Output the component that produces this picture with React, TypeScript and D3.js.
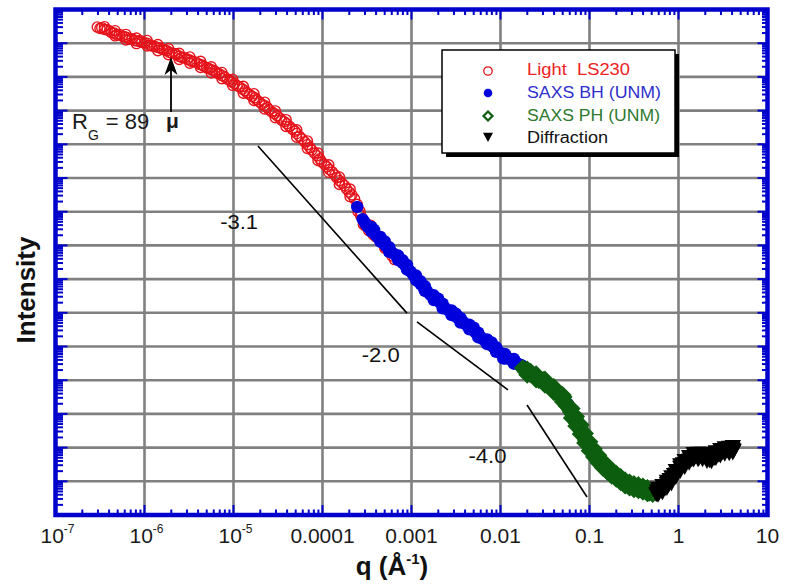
import React from "react";
import * as d3 from "d3";

// ---- axis tick labels ----
const xTickLabels = ["10^-7", "10^-6", "10^-5", "0.0001", "0.001", "0.01", "0.1", "1", "10"];
const xTickValues = [1e-7, 1e-6, 1e-5, 1e-4, 1e-3, 1e-2, 1e-1, 1, 10];

// ---- series: [log10 q (1/Å), log10 Intensity (arb.)] ----
const lightLS230 = [
  [-6.53, 14.48], [-6.5, 14.44], [-6.48, 14.46], [-6.45, 14.41], [-6.42, 14.4], [-6.39, 14.36], [-6.37, 14.31],
  [-6.34, 14.3], [-6.31, 14.25], [-6.28, 14.26], [-6.25, 14.21], [-6.22, 14.19], [-6.2, 14.17], [-6.17, 14.12],
  [-6.14, 14.13], [-6.11, 14.08], [-6.08, 14.06], [-6.05, 14.08], [-6.03, 14.03], [-6.0, 14.01], [-5.97, 14.0],
  [-5.94, 13.94], [-5.92, 13.92], [-5.89, 13.91], [-5.86, 13.88], [-5.83, 13.86], [-5.8, 13.82], [-5.78, 13.81],
  [-5.75, 13.78], [-5.72, 13.73], [-5.69, 13.7], [-5.66, 13.69], [-5.64, 13.66], [-5.61, 13.61], [-5.58, 13.58],
  [-5.55, 13.57], [-5.52, 13.53], [-5.49, 13.5], [-5.47, 13.46], [-5.44, 13.45], [-5.41, 13.42], [-5.38, 13.37],
  [-5.35, 13.35], [-5.33, 13.31], [-5.3, 13.27], [-5.27, 13.24], [-5.24, 13.2], [-5.21, 13.17], [-5.19, 13.12],
  [-5.16, 13.09], [-5.13, 13.04], [-5.1, 13.0], [-5.07, 12.93], [-5.04, 12.9], [-5.02, 12.85], [-4.99, 12.8],
  [-4.96, 12.74], [-4.93, 12.7], [-4.9, 12.64], [-4.87, 12.59], [-4.85, 12.53], [-4.82, 12.48], [-4.79, 12.42],
  [-4.76, 12.38], [-4.74, 12.32], [-4.71, 12.26], [-4.68, 12.19], [-4.65, 12.15], [-4.62, 12.09], [-4.6, 12.03],
  [-4.57, 11.96], [-4.54, 11.91], [-4.51, 11.85], [-4.48, 11.78], [-4.46, 11.72], [-4.43, 11.67], [-4.4, 11.61],
  [-4.37, 11.53], [-4.34, 11.45], [-4.31, 11.39], [-4.29, 11.32], [-4.26, 11.24], [-4.23, 11.16], [-4.2, 11.07],
  [-4.17, 10.99], [-4.14, 10.9], [-4.12, 10.83], [-4.09, 10.74], [-4.06, 10.66], [-4.03, 10.57], [-4.01, 10.48],
  [-3.98, 10.41], [-3.95, 10.33], [-3.92, 10.25], [-3.89, 10.18], [-3.86, 10.09], [-3.84, 10.01], [-3.81, 9.92],
  [-3.78, 9.85], [-3.75, 9.77], [-3.73, 9.68], [-3.7, 9.58], [-3.67, 9.5], [-3.64, 9.38], [-3.61, 9.22],
  [-3.58, 9.02], [-3.55, 8.78], [-3.52, 8.68], [-3.5, 8.62], [-3.47, 8.53], [-3.44, 8.46], [-3.41, 8.36],
  [-3.39, 8.28], [-3.36, 8.19], [-3.33, 8.1], [-3.3, 8.0], [-3.28, 7.9], [-3.25, 7.8], [-3.22, 7.69], [-3.19, 7.58],
  [-3.52, 8.58], [-3.46, 8.6], [-3.4, 8.25], [-3.35, 8.26], [-3.3, 7.92], [-3.27, 7.98],
  // scattered upper / lower points
  [-6.45, 14.49], [-6.33, 14.37], [-6.33, 14.22], [-6.21, 14.26], [-6.21, 14.1], [-6.09, 14.15], [-6.09, 13.99],
  [-5.97, 14.08], [-5.97, 13.92], [-5.85, 13.96], [-5.85, 13.78], [-5.73, 13.84], [-5.73, 13.66], [-5.61, 13.7],
  [-5.61, 13.52], [-5.49, 13.59], [-5.49, 13.41], [-5.37, 13.46], [-5.37, 13.28], [-5.25, 13.3], [-5.25, 13.12],
  [-5.13, 13.13], [-5.13, 12.95], [-5.01, 12.93], [-5.01, 12.75], [-4.89, 12.72], [-4.89, 12.52], [-4.77, 12.5],
  [-4.77, 12.3], [-4.65, 12.25], [-4.65, 12.05], [-4.53, 11.99], [-4.53, 11.79], [-4.41, 11.73], [-4.41, 11.53],
  [-4.29, 11.43], [-4.29, 11.21], [-4.17, 11.1], [-4.17, 10.88], [-4.05, 10.74], [-4.05, 10.52], [-3.93, 10.39],
  [-3.93, 10.17], [-3.81, 10.03], [-3.81, 9.81], [-3.69, 9.67], [-3.69, 9.45],
  // red fringe around the start of the SAXS BH data
  [-3.6, 9.0], [-3.57, 8.88], [-3.54, 8.62], [-3.48, 8.44], [-3.43, 8.32],
];

const saxsBH = [
  [-3.61, 9.14], [-3.55, 8.78], [-3.53, 8.7], [-3.51, 8.62], [-3.49, 8.55], [-3.47, 8.52], [-3.44, 8.47],
  [-3.42, 8.38], [-3.42, 8.46], [-3.4, 8.3], [-3.38, 8.25], [-3.35, 8.18], [-3.32, 8.07], [-3.3, 8.12], [-3.29, 7.98],
  [-3.26, 7.92], [-3.24, 7.85], [-3.21, 7.77], [-3.18, 7.72], [-3.15, 7.63], [-3.12, 7.55], [-3.1, 7.48],
  [-3.1, 7.56], [-3.07, 7.4], [-3.04, 7.3], [-3.01, 7.22], [-2.98, 7.12], [-2.95, 7.04], [-2.93, 6.94],
  [-2.9, 6.86], [-2.9, 6.94], [-2.87, 6.77], [-2.84, 6.7], [-2.82, 6.62], [-2.79, 6.54], [-2.76, 6.47],
  [-2.73, 6.41], [-2.7, 6.35], [-2.7, 6.42], [-2.67, 6.28], [-2.65, 6.2], [-2.62, 6.14], [-2.59, 6.08],
  [-2.56, 6.02], [-2.53, 5.96], [-2.51, 5.9], [-2.5, 5.97], [-2.48, 5.85], [-2.45, 5.78], [-2.42, 5.73],
  [-2.39, 5.66], [-2.37, 5.61], [-2.34, 5.55], [-2.31, 5.49], [-2.3, 5.56], [-2.28, 5.41], [-2.25, 5.34],
  [-2.22, 5.28], [-2.2, 5.22], [-2.17, 5.16], [-2.14, 5.1], [-2.11, 5.04], [-2.1, 5.12], [-2.08, 4.99],
  [-2.06, 4.93], [-2.03, 4.87], [-2.0, 4.81], [-1.97, 4.75], [-1.97, 4.65], [-1.94, 4.7], [-1.92, 4.66],
  [-1.89, 4.61], [-1.86, 4.57], [-1.83, 4.52], [-1.8, 4.48], [-1.77, 4.45], [-1.75, 4.42], [-1.67, 4.27],
  [-1.56, 4.07], [-1.44, 3.83], [-1.33, 3.53], [-1.24, 3.29],
  // scattered upper / lower points
  [-3.45, 8.55], [-3.45, 8.41], [-3.35, 8.25], [-3.35, 8.11], [-3.25, 7.95], [-3.25, 7.81], [-3.15, 7.7],
  [-3.15, 7.56], [-3.05, 7.42], [-3.05, 7.28], [-2.95, 7.11], [-2.95, 6.97], [-2.85, 6.79], [-2.85, 6.65],
  [-2.75, 6.52], [-2.75, 6.38], [-2.65, 6.27], [-2.65, 6.13], [-2.55, 6.07], [-2.55, 5.93], [-2.45, 5.85],
  [-2.45, 5.71], [-2.35, 5.65], [-2.35, 5.51], [-2.25, 5.41], [-2.25, 5.27], [-2.15, 5.21], [-2.15, 5.07],
  [-2.05, 4.98], [-2.05, 4.84], [-1.95, 4.78], [-1.95, 4.64], [-1.85, 4.63], [-1.85, 4.49],
];

const saxsPH = [
  [-1.75, 4.36], [-1.73, 4.3], [-1.72, 4.26], [-1.69, 4.27], [-1.67, 4.19], [-1.66, 4.25], [-1.64, 4.18],
  [-1.62, 4.12], [-1.61, 4.1], [-1.58, 4.1], [-1.57, 4.0], [-1.55, 4.02], [-1.52, 4.01], [-1.51, 3.92],
  [-1.49, 3.93], [-1.47, 3.89], [-1.45, 3.81], [-1.44, 3.81], [-1.41, 3.77], [-1.4, 3.68], [-1.38, 3.72],
  [-1.35, 3.62], [-1.34, 3.56], [-1.32, 3.55], [-1.3, 3.44], [-1.29, 3.5], [-1.28, 3.36], [-1.26, 3.24],
  [-1.25, 3.26], [-1.23, 3.18], [-1.22, 3.12], [-1.21, 3.06], [-1.19, 2.98], [-1.18, 2.9], [-1.16, 2.85],
  [-1.15, 2.76], [-1.14, 2.73], [-1.12, 2.58], [-1.11, 2.62], [-1.09, 2.49], [-1.08, 2.42], [-1.07, 2.37],
  [-1.05, 2.28], [-1.04, 2.2], [-1.03, 2.17], [-1.01, 2.09], [-1.0, 2.02], [-0.98, 1.99], [-0.96, 1.9],
  [-0.95, 1.83], [-0.94, 1.81], [-0.91, 1.71], [-0.9, 1.65], [-0.88, 1.6], [-0.86, 1.55], [-0.85, 1.52],
  [-0.83, 1.42], [-0.81, 1.4], [-0.8, 1.36], [-0.77, 1.28], [-0.76, 1.26], [-0.74, 1.22], [-0.71, 1.16],
  [-0.7, 1.18], [-0.68, 1.1], [-0.66, 1.04], [-0.65, 1.06], [-0.63, 0.99], [-0.6, 0.95], [-0.58, 0.9],
  [-0.57, 0.91], [-0.55, 0.89], [-0.52, 0.86], [-0.5, 0.82], [-0.49, 0.83], [-0.46, 0.81], [-0.43, 0.8],
  [-0.41, 0.75], [-0.4, 0.77], [-0.38, 0.74], [-0.35, 0.71], [-0.33, 0.66], [-0.32, 0.68], [-0.29, 0.62],
  // scattered upper / lower points
  [-1.7, 4.32], [-1.7, 4.16], [-1.6, 4.18], [-1.6, 4.02], [-1.5, 4.02], [-1.5, 3.86], [-1.4, 3.8], [-1.4, 3.64],
  [-1.3, 3.56], [-1.3, 3.36], [-1.2, 3.16], [-1.2, 2.88], [-1.15, 2.92], [-1.15, 2.64], [-1.1, 2.68], [-1.1, 2.4],
  [-1.05, 2.42], [-1.05, 2.14], [-1.0, 2.17], [-1.0, 1.91], [-0.95, 1.96], [-0.95, 1.72], [-0.9, 1.77],
  [-0.9, 1.55], [-0.85, 1.6], [-0.85, 1.4], [-0.8, 1.46], [-0.8, 1.28], [-0.75, 1.34], [-0.75, 1.16],
  [-0.7, 1.23], [-0.7, 1.07], [-0.65, 1.13], [-0.65, 0.97], [-0.6, 1.03], [-0.6, 0.87], [-0.55, 0.97],
  [-0.55, 0.81], [-0.5, 0.92], [-0.5, 0.76], [-0.45, 0.89], [-0.45, 0.73], [-0.4, 0.85], [-0.4, 0.69],
  [-0.35, 0.8], [-0.35, 0.64],
];

const diffraction = [
  [-0.25, 0.62], [-0.24, 0.7], [-0.22, 0.66], [-0.21, 0.76], [-0.19, 0.72], [-0.17, 0.83], [-0.15, 0.8],
  [-0.13, 0.92], [-0.11, 0.9], [-0.1, 1.04], [-0.08, 1.02], [-0.05, 1.19], [-0.03, 1.2], [-0.02, 1.31],
  [0.0, 1.3], [0.02, 1.4], [0.04, 1.42], [0.05, 1.51], [0.07, 1.5], [0.1, 1.6], [0.12, 1.62], [0.13, 1.69],
  [0.15, 1.66], [0.17, 1.72], [0.19, 1.76], [0.21, 1.75], [0.23, 1.7], [0.24, 1.76], [0.26, 1.72], [0.28, 1.75],
  [0.3, 1.72], [0.31, 1.69], [0.33, 1.66], [0.35, 1.63], [0.38, 1.66], [0.4, 1.7], [0.41, 1.75], [0.43, 1.81],
  [0.45, 1.8], [0.47, 1.85], [0.49, 1.86], [0.5, 1.9], [0.52, 1.88], [0.55, 1.93], [0.57, 1.9], [0.58, 1.93],
  [0.6, 1.96], [0.61, 1.94], [0.62, 1.91],
  // scattered upper / lower points
  [-0.23, 0.79], [-0.23, 0.61], [-0.18, 0.86], [-0.18, 0.68], [-0.13, 0.99], [-0.13, 0.81], [-0.08, 1.12],
  [-0.08, 0.94], [-0.03, 1.31], [-0.03, 1.13], [0.02, 1.48], [0.02, 1.31], [0.07, 1.6], [0.07, 1.43],
  [0.12, 1.72], [0.12, 1.56], [0.17, 1.81], [0.17, 1.65], [0.22, 1.82], [0.22, 1.66], [0.27, 1.82],
  [0.27, 1.66], [0.32, 1.76], [0.32, 1.61], [0.37, 1.74], [0.37, 1.6], [0.42, 1.86], [0.42, 1.7],
  [0.47, 1.93], [0.47, 1.77], [0.52, 1.98], [0.52, 1.82], [0.57, 2.0], [0.57, 1.84], [0.61, 2.02],
  [0.61, 1.86],
];

// power-law guide lines: [log q start, log I start, log q end, log I end]
const slopeLines = [
  [-4.725, 10.95, -3.051, 5.99],
  [-2.938, 5.73, -1.916, 3.71],
  [-1.702, 3.264, -1.028, 0.534],
];
const slopeLabels = ["-3.1", "-2.0", "-4.0"];
const slopeLabelPos = [[-5.15, 8.5], [-3.56, 4.55], [-2.36, 1.55]];

const legendNames = ["Light  LS230", "SAXS BH (UNM)", "SAXS PH (UNM)", "Diffraction"];

const BLUE = "#0000cc";
const RED = "#e5121a";
const MBLUE = "#0000dd";
const GREEN = "#0d5e0f";
const FONT = "'Liberation Sans', Arial, Helvetica, sans-serif";

const x = d3.scaleLog().domain([1e-7, 10]).range([55.5, 767.5]);
const y = d3.scaleLog().domain([1, 1e15]).range([515, 9.5]);

const P = (d: number[]) => [x(10 ** d[0]), y(10 ** d[1])];

const isMajor = (v: number) => Math.abs(Math.log10(v) - Math.round(Math.log10(v))) < 1e-6;

function Diamond({ cx, cy, s, stroke, sw, fill }: any) {
  return (
    <path
      d={`M${cx},${cy - s} L${cx + s},${cy} L${cx},${cy + s} L${cx - s},${cy} Z`}
      fill={fill}
      stroke={stroke}
      strokeWidth={sw}
    />
  );
}
function Tri({ cx, cy, s }: any) {
  return <path d={`M${cx - s},${cy - s * 0.85} L${cx + s},${cy - s * 0.85} L${cx},${cy + s} Z`} fill="#000" />;
}

export default function App() {
  const [x0, x1] = x.range();
  const [y0, y1] = y.range(); // y0 bottom, y1 top
  const xt = x.ticks(12);
  const yt = y.ticks(20);
  const xMajor = xt.filter(isMajor);
  const yMajor = yt.filter(isMajor);

  const lx = 442, ly = 50, lw = 233, lh = 103;
  const legY = [75, 98, 121, 143];
  const legW = [103, 134, 133, 81];
  const legColors = ["#ee2222", "#3030cc", "#2e7a2e", "#111"];

  return (
    <svg width={785} height={585} style={{ position: "absolute", left: 0, top: 0, background: "#fff" }} fontFamily={FONT}>
      <rect x={0} y={0} width={785} height={585} fill="#fff" />
      {/* grid */}
      {xMajor.filter((v) => v > 1e-7 && v < 10).map((v, i) => (
        <line key={"gx" + i} x1={x(v)} x2={x(v)} y1={y1} y2={y0} stroke="#808080" strokeWidth={2.6} />
      ))}
      {yMajor.filter((v) => v > 1 && v < 1e15).map((v, i) => (
        <line key={"gy" + i} x1={x0} x2={x1} y1={y(v)} y2={y(v)} stroke="#808080" strokeWidth={2.6} />
      ))}

      {/* slope guide lines */}
      {slopeLines.map((s, i) => {
        const a = P([s[0], s[1]]);
        const b = P([s[2], s[3]]);
        return <line key={"sl" + i} x1={a[0]} y1={a[1]} x2={b[0]} y2={b[1]} stroke="#000" strokeWidth={1.6} />;
      })}
      {slopeLabels.map((t, i) => {
        const p = P(slopeLabelPos[i]);
        return (
          <text key={"slt" + i} x={p[0]} y={p[1]} fontSize={20} fill="#111" textLength={38} lengthAdjust="spacingAndGlyphs">
            {t}
          </text>
        );
      })}

      {/* data */}
      <g>
        {lightLS230.map((d, i) => {
          const p = P(d);
          return <circle key={"r" + i} cx={p[0]} cy={p[1]} r={5.1} fill="none" stroke={RED} strokeWidth={1.4} />;
        })}
      </g>
      <g>
        {saxsBH.map((d, i) => {
          const p = P(d);
          return <circle key={"b" + i} cx={p[0]} cy={p[1]} r={6.2} fill={MBLUE} />;
        })}
      </g>
      <g>
        {saxsPH.map((d, i) => {
          const p = P(d);
          return <Diamond key={"g" + i} cx={p[0]} cy={p[1]} s={6.8} stroke={GREEN} sw={3} fill="none" />;
        })}
      </g>
      <g>
        {diffraction.map((d, i) => {
          const p = P(d);
          return <Tri key={"k" + i} cx={p[0]} cy={p[1]} s={8.2} />;
        })}
      </g>

      {/* legend */}
      <rect x={lx + 4} y={ly + 4} width={lw} height={lh} fill="#000" />
      <rect x={lx} y={ly} width={lw} height={lh} fill="#fff" stroke="#000" strokeWidth={1.5} />
      <circle cx={488} cy={legY[0] - 4} r={4.2} fill="none" stroke={RED} strokeWidth={1.3} />
      <circle cx={488} cy={legY[1] - 5} r={4.3} fill={MBLUE} />
      <Diamond cx={488} cy={legY[2] - 5} s={4.5} stroke={GREEN} sw={2.2} fill="#fff" />
      <Tri cx={488} cy={legY[3] - 6} s={5} />
      {legendNames.map((n, i) => (
        <text key={"lt" + i} x={527} y={legY[i]} fontSize={16} fill={legColors[i]} textLength={legW[i]} lengthAdjust="spacingAndGlyphs" style={{ whiteSpace: "pre" }}>
          {n}
        </text>
      ))}

      {/* R_G annotation with arrow */}
      <text x={72} y={129} fontSize={22} fill="#1a1a1a">
        R<tspan fontSize={14} dy={11}>G</tspan>
        <tspan dy={-11} dx={7}>= 89</tspan>
      </text>
      <text x={166} y={128} fontSize={21} fontWeight="bold" fill="#1a1a1a">μ</text>
      <line x1={171} x2={171} y1={112} y2={66} stroke="#000" strokeWidth={1.8} />
      <path d="M171,57 L177.5,75 L171,70 L164.5,75 Z" fill="#000" />

      {/* frame, ticks */}
      {xt.map((v, i) => {
        const L = isMajor(v) ? 10 : 5.5;
        return (
          <g key={"xt" + i}>
            <line x1={x(v)} x2={x(v)} y1={y0} y2={y0 - L} stroke={BLUE} strokeWidth={2} />
            <line x1={x(v)} x2={x(v)} y1={y1} y2={y1 + L} stroke={BLUE} strokeWidth={2} />
          </g>
        );
      })}
      {yt.map((v, i) => {
        const L = isMajor(v) ? 12 : 7.5;
        return (
          <g key={"yt" + i}>
            <line x1={x0} x2={x0 + L} y1={y(v)} y2={y(v)} stroke={BLUE} strokeWidth={2} />
            <line x1={x1} x2={x1 - L + 2} y1={y(v)} y2={y(v)} stroke={BLUE} strokeWidth={2} />
          </g>
        );
      })}
      <rect x={x0} y={y1} width={x1 - x0} height={y0 - y1} fill="none" stroke={BLUE} strokeWidth={4.5} />

      {/* x tick labels */}
      {xTickValues.map((v, i) => {
        const lab = xTickLabels[i];
        const parts = lab.split("^");
        return (
          <text key={"xl" + i} x={x(v) + (parts.length > 1 ? 2 : 0)} y={543} fontSize={21} fill="#1a1a1a" textAnchor="middle">
            {parts[0]}
            {parts.length > 1 && (
              <tspan fontSize={12} dy={-10}>
                {parts[1]}
              </tspan>
            )}
          </text>
        );
      })}

      {/* axis titles */}
      <text x={392} y={575} fontSize={26} fontWeight="bold" fill="#111" textAnchor="middle">
        q (Å<tspan fontSize={15} dy={-11}>-1</tspan>
        <tspan dy={11}>)</tspan>
      </text>
      <text transform="translate(35,290) rotate(-90)" fontSize={26} fontWeight="bold" fill="#111" textAnchor="middle">
        Intensity
      </text>
    </svg>
  );
}
